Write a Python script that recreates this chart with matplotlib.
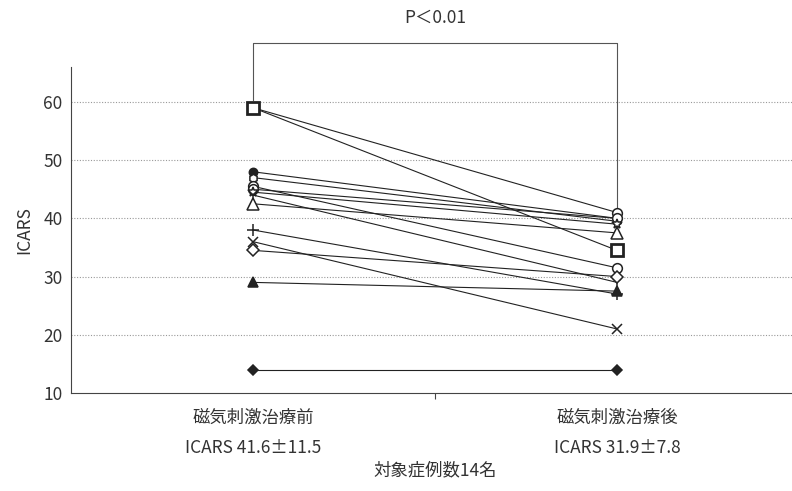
import matplotlib
matplotlib.use("Agg")
import matplotlib.pyplot as plt

plt.rcParams['font.family'] = ['Noto Sans CJK JP', 'DejaVu Sans']

# 治療前 / 治療後 のICARS
before = [59, 59, 48, 47, 45.5, 45, 44.5, 44, 42.5, 38, 36, 34.5, 29, 14]
after = [34.5, 41, 40, 39.5, 31.5, 40, 39, 29, 37.5, 27, 21, 30, 27.5, 14]
markers = ['s', 'o', 'o', 'h', 'o', 'o', '*', '1', '^', '+', 'x', 'D', '^', 'D']
filled = [False, False, True, False, False, False, False, False, False, False, False, False, True, True]
sizes = [8, 7, 6, 6, 7, 7, 7, 8, 8, 8, 7, 6, 7, 5]

labels = ['磁気刺激治療前\nICARS 41.6±11.5', '磁気刺激治療後\nICARS 31.9±7.8']
yticks = [10, 20, 30, 40, 50, 60]

fig = plt.figure(figsize=(7.92, 4.91), dpi=100)
ax = fig.add_axes([0.0896, 0.1996, 0.9104, 0.664])

xs = [0.5, 1.5]
for i, (b, a, m, f, s) in enumerate(zip(before, after, markers, filled, sizes)):
    ax.plot(xs, [b, a], color='#222222', lw=0.8, marker=m, ms=s,
            mfc='#222222' if f else 'white', mec='#222222',
            mew=2.0 if m == 's' else 1.1, zorder=4 if m == 's' else 3)

ax.set_xlim(0, 1.981)
ax.set_ylim(10, 66)
ax.set_yticks(yticks)
for y in yticks[1:]:
    ax.axhline(y, color='#999999', lw=0.8, ls=(0, (1, 1.5)), zorder=1)

ax.set_xticks([1.0])
ax.set_xticklabels([''])
ax.tick_params(axis='x', length=4, color='#444444')
ax.tick_params(axis='y', length=0, labelsize=12.5, labelcolor='#333333', pad=6)
for i, t in enumerate(labels):
    ax.text(xs[i], 7.3, t, ha='center', va='top', fontsize=12.5, color='#333333',
            linespacing=1.85)
ax.text(1.0, -1.8, '対象症例数14名', ha='center', va='top', fontsize=12.5, color='#333333')
ax.set_ylabel('ICARS', fontsize=12.5, color='#333333', labelpad=7)

for sp in ['top', 'right']:
    ax.spines[sp].set_visible(False)
ax.spines['left'].set_color('#444444')
ax.spines['bottom'].set_color('#444444')

# 有意差ブラケット
ax.plot([0.5, 0.5, 1.5, 1.5], [60.3, 70.1, 70.1, 41.5], color='#555555', lw=0.8,
        clip_on=False, zorder=2)
ax.text(1.0, 74.5, 'P＜0.01', ha='center', va='center', fontsize=12.5, color='#333333')

fig.savefig('out.png', dpi=100)
